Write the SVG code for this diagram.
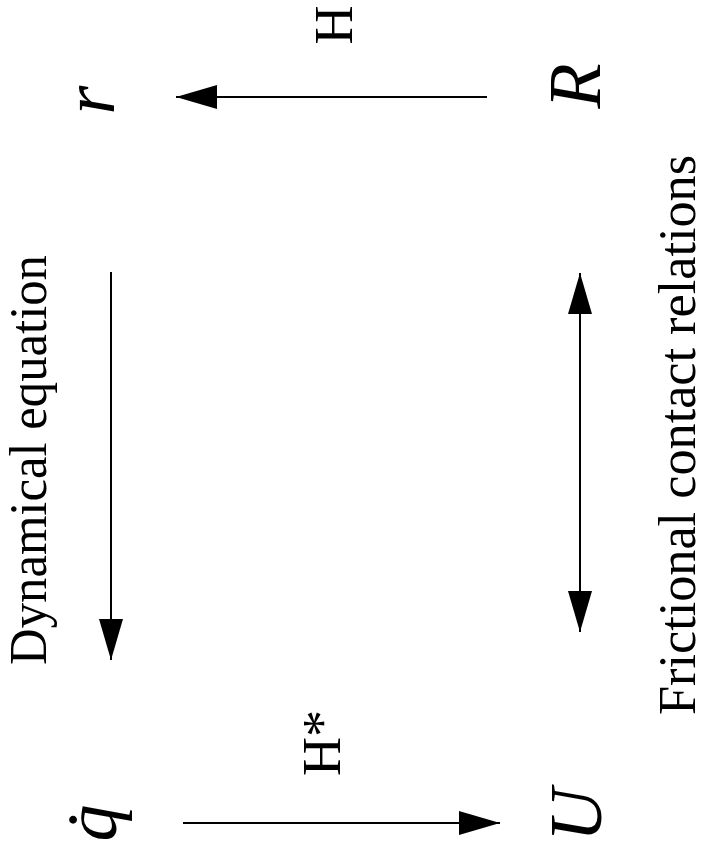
<svg xmlns="http://www.w3.org/2000/svg" width="707" height="857" viewBox="0 0 707 857">
<style>
.t{font-family:"Liberation Serif","DejaVu Serif",serif;fill:#000}
.m{font-style:italic;font-size:74px}
.b{font-size:54px}
.l{font-size:52px}
.c{stroke:#000;stroke-width:2;fill:none}
</style>
<defs>
<marker id="ah" markerUnits="userSpaceOnUse" markerWidth="41" markerHeight="24" refX="41" refY="12" orient="auto-start-reverse" viewBox="0 0 41 24">
<path d="M0,0 L41,12 L0,24 z" fill="#000"/>
</marker>
</defs>
<rect width="707" height="857" fill="#fff"/>
<g id="connectors">
<line class="c" x1="487" y1="97" x2="176" y2="97" marker-end="url(#ah)"/>
<line class="c" x1="111" y1="272" x2="111" y2="660" marker-end="url(#ah)"/>
<line class="c" x1="580" y1="273" x2="580" y2="632" marker-start="url(#ah)" marker-end="url(#ah)"/>
<line class="c" x1="183" y1="823" x2="500" y2="823" marker-end="url(#ah)"/>
</g>
<g id="node-r"><text class="t m" x="114" y="100" text-anchor="middle" transform="rotate(-90 114 100)">r</text></g>
<g id="node-R"><text class="t m" x="600" y="86" text-anchor="middle" transform="rotate(-90 600 86)">R</text></g>
<g id="node-qdot"><text class="t m" x="116" y="823" text-anchor="middle" transform="rotate(-90 116 823)">q̇</text></g>
<g id="node-U"><text class="t m" x="601" y="815" text-anchor="middle" transform="rotate(-90 601 815)">U</text></g>
<g id="label-H"><text class="t b" x="352" y="25" text-anchor="middle" transform="rotate(-90 352 25)">H</text></g>
<g id="label-Hstar"><text class="t b" x="340" y="743" text-anchor="middle" transform="rotate(-90 340 743)">H*</text></g>
<g id="label-dyn"><text class="t l" x="46" y="460" text-anchor="middle" textLength="410" lengthAdjust="spacingAndGlyphs" transform="rotate(-90 46 460)">Dynamical equation</text></g>
<g id="label-fric"><text class="t l" x="695" y="435" text-anchor="middle" textLength="560" lengthAdjust="spacingAndGlyphs" transform="rotate(-90 695 435)">Frictional contact relations</text></g>
</svg>
